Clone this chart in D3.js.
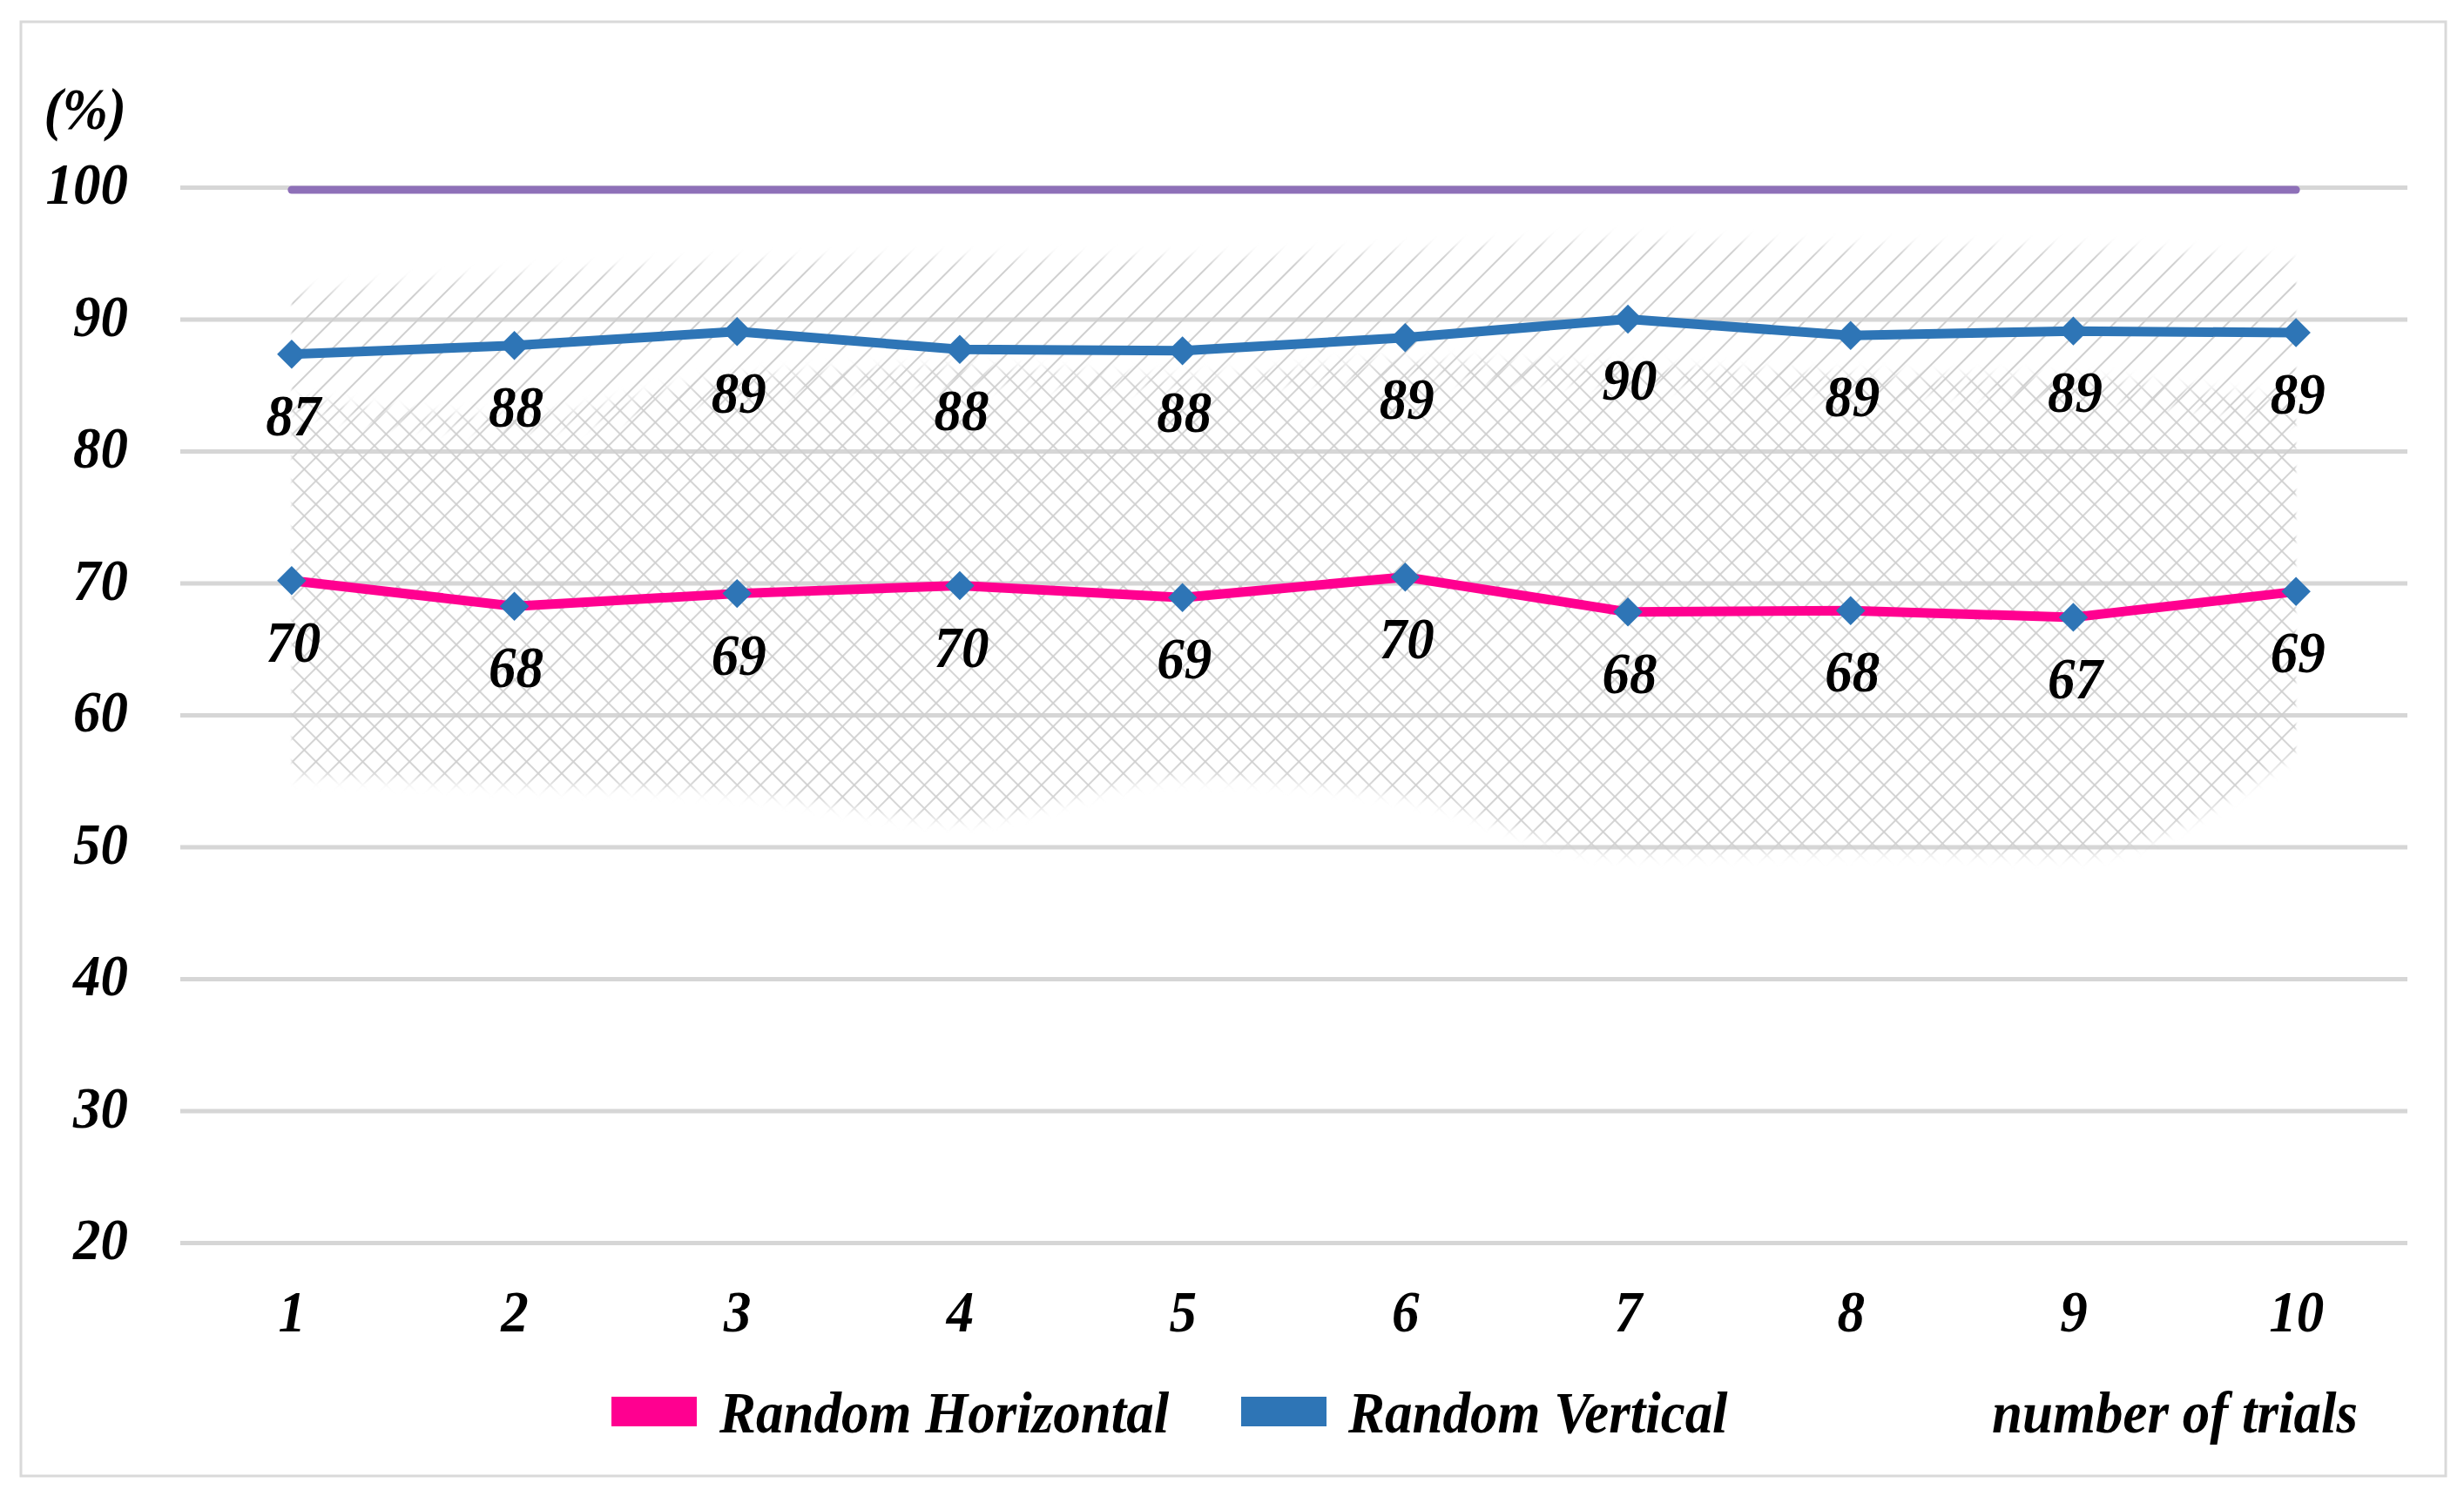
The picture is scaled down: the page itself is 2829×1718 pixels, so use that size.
<!DOCTYPE html>
<html>
<head>
<meta charset="utf-8">
<script src="https://cdn.jsdelivr.net/npm/d3@7"></script>
<style>
  html, body { margin: 0; padding: 0; background: #ffffff; }
  svg { display: block; }
  text { font-family: "Liberation Serif", "Times New Roman", serif; font-weight: bold; font-style: italic; fill: #000; }
</style>
</head>
<body>
<svg id="chart" width="2829" height="1718"></svg>
<script>
// ---------------- data ----------------
const categories = ["1", "2", "3", "4", "5", "6", "7", "8", "9", "10"];
const verticalValues   = [87.35, 88.0, 89.06, 87.7, 87.6, 88.6, 90.0, 88.76, 89.1, 88.97];
const horizontalValues = [70.18, 68.24, 69.2, 69.8, 68.9, 70.45, 67.8, 67.9, 67.4, 69.35];
const referenceValues  = [99.8, 99.8, 99.8, 99.8, 99.8, 99.8, 99.8, 99.8, 99.8, 99.8];
const verticalBandTop      = [92.0, 93.4, 94.3, 94.6, 94.6, 95.2, 96.0, 95.5, 95.4, 94.3];
const verticalBandBottom   = [83.0, 81.6, 84.0, 85.0, 84.8, 85.5, 85.0, 84.5, 84.0, 82.3];
const horizontalBandTop    = [84.0, 82.6, 85.6, 86.3, 85.6, 86.8, 86.4, 85.8, 85.5, 83.8];
const horizontalBandBottom = [55.4, 54.7, 54.1, 52.0, 55.2, 53.8, 49.4, 49.6, 49.3, 57.0];
const yTicks = [20, 30, 40, 50, 60, 70, 80, 90, 100];
const yUnitLabel = "(%)";
const xAxisTitle = "number of trials";
const seriesNames = ["Random Horizontal", "Random Vertical"];

// ---------------- layout ----------------
const W = 2829, H = 1718;
const plot = { left: 207, right: 2764, top: 215, bottom: 1427 };
const colors = { vertical: "#2e75b6", horizontal: "#ff0090", reference: "#8e70b8", grid: "#d6d6d6", hatch: "#cfcfcf" };
const FS = 67, SX = 0.94;

const svg = d3.select("#chart");

// outer frame
svg.append("rect")
  .attr("x", 24).attr("y", 25).attr("width", 2784).attr("height", 1670)
  .attr("fill", "#fff").attr("stroke", "#d9d9d9").attr("stroke-width", 3);

const x = d3.scalePoint().domain(categories).range([plot.left, plot.right]).padding(0.5);
const y = d3.scaleLinear().domain([20, 100]).range([plot.bottom, plot.top]);

// defs: patterns, blur, masks
const defs = svg.append("defs");
const dS = 23;
const pDiag = defs.append("pattern").attr("id", "diag")
  .attr("patternUnits", "userSpaceOnUse").attr("width", dS).attr("height", dS)
  .attr("patternTransform", "rotate(45)");
pDiag.append("line").attr("x1", 1).attr("y1", 0).attr("x2", 1).attr("y2", dS)
  .attr("stroke", colors.hatch).attr("stroke-width", 2);

const cS = 19;
const pCross = defs.append("pattern").attr("id", "cross")
  .attr("patternUnits", "userSpaceOnUse").attr("width", cS).attr("height", cS)
  .attr("patternTransform", "rotate(45)");
pCross.append("line").attr("x1", 1).attr("y1", 0).attr("x2", 1).attr("y2", cS)
  .attr("stroke", colors.hatch).attr("stroke-width", 1.8);
pCross.append("line").attr("x1", 0).attr("y1", 1).attr("x2", cS).attr("y2", 1)
  .attr("stroke", colors.hatch).attr("stroke-width", 1.8);

const blur = defs.append("filter").attr("id", "soft")
  .attr("x", "-5%").attr("y", "-30%").attr("width", "110%").attr("height", "160%");
blur.append("feGaussianBlur").attr("stdDeviation", "1 7");

const bandArea = (top, bottom) => d3.area()
  .x((d, i) => x(categories[i]))
  .y0((d, i) => y(bottom[i]))
  .y1((d, i) => y(top[i]))
  .curve(d3.curveMonotoneX)(categories);

const bands = [
  { id: "mDiag", pattern: "diag", top: verticalBandTop, bottom: verticalBandBottom },
  { id: "mCross", pattern: "cross", top: horizontalBandTop, bottom: horizontalBandBottom }
];
bands.forEach(b => {
  const m = defs.append("mask").attr("id", b.id)
    .attr("maskUnits", "userSpaceOnUse").attr("x", 0).attr("y", 0).attr("width", W).attr("height", H);
  m.append("path").attr("d", bandArea(b.top, b.bottom)).attr("fill", "#fff").attr("filter", "url(#soft)");
});

// gridlines + y axis
const yAxis = d3.axisLeft(y).tickValues(yTicks).tickSize(-(plot.right - plot.left)).tickPadding(60);
const gy = svg.append("g").attr("transform", `translate(${plot.left},0)`).call(yAxis);
gy.select(".domain").remove();
gy.selectAll(".tick line").attr("stroke", colors.grid).attr("stroke-width", 5);
gy.selectAll(".tick text").attr("font-size", FS).attr("fill", "#000")
  .attr("font-family", null).attr("dy", "0.28em");

// hatched bands
bands.forEach(b => {
  svg.append("rect")
    .attr("x", plot.left).attr("y", 0).attr("width", plot.right - plot.left).attr("height", H)
    .attr("fill", `url(#${b.pattern})`).attr("mask", `url(#${b.id})`);
});

// x axis
const xAxis = d3.axisBottom(x).tickSize(0).tickPadding(54);
const gx = svg.append("g").attr("transform", `translate(0,${plot.bottom})`).call(xAxis);
gx.select(".domain").remove();
gx.selectAll(".tick text").attr("font-size", FS).attr("fill", "#000").attr("font-family", null);

// unit label
svg.append("text").attr("x", 145).attr("y", 148).attr("text-anchor", "end")
  .attr("font-size", FS).text(yUnitLabel);

// lines
const lineGen = d3.line().x((d, i) => x(categories[i])).y(d => y(d));

svg.append("path").datum(horizontalValues).attr("d", lineGen)
  .attr("fill", "none").attr("stroke", colors.horizontal).attr("stroke-width", 11)
  .attr("stroke-linejoin", "round");
svg.append("path").datum(verticalValues).attr("d", lineGen)
  .attr("fill", "none").attr("stroke", colors.vertical).attr("stroke-width", 11)
  .attr("stroke-linejoin", "round");
svg.append("path").datum(referenceValues).attr("d", lineGen)
  .attr("fill", "none").attr("stroke", colors.reference).attr("stroke-width", 9)
  .attr("stroke-linecap", "round");

// markers (both series use blue diamonds)
const diamond = d3.symbol().type(d3.symbolSquare).size(560);
[verticalValues, horizontalValues].forEach(vals => {
  svg.append("g").selectAll("path").data(vals).join("path")
    .attr("d", diamond)
    .attr("transform", (d, i) => `translate(${x(categories[i])},${y(d)}) rotate(45)`)
    .attr("fill", colors.vertical);
});

// data labels
[verticalValues, horizontalValues].forEach(vals => {
  svg.append("g").selectAll("text").data(vals).join("text")
    .attr("x", (d, i) => x(categories[i]) + 2)
    .attr("y", d => y(d) + 93)
    .attr("text-anchor", "middle")
    .attr("font-size", FS)
    .text(d => d3.format(".0f")(d));
});

// legend
const legend = svg.append("g");
const legendItems = [
  { name: seriesNames[0], color: colors.horizontal, rx: 702, tx: 826 },
  { name: seriesNames[1], color: colors.vertical, rx: 1425, tx: 1548 }
];
legendItems.forEach(it => {
  legend.append("rect").attr("x", it.rx).attr("y", 1604).attr("width", 98).attr("height", 34).attr("fill", it.color);
  legend.append("text").attr("x", it.tx).attr("y", 1645).attr("font-size", FS).text(it.name);
});
legend.append("text").attr("x", 2287).attr("y", 1645).attr("font-size", FS).text(xAxisTitle);

// slightly condensed glyphs (tall, narrow look of the original), compressed about each text's anchor x
svg.selectAll("text").each(function () {
  const ax = +(this.getAttribute("x") || 0);
  d3.select(this).attr("transform", `translate(${ax},0) scale(${SX},1) translate(${-ax},0)`);
});
</script>
</body>
</html>
